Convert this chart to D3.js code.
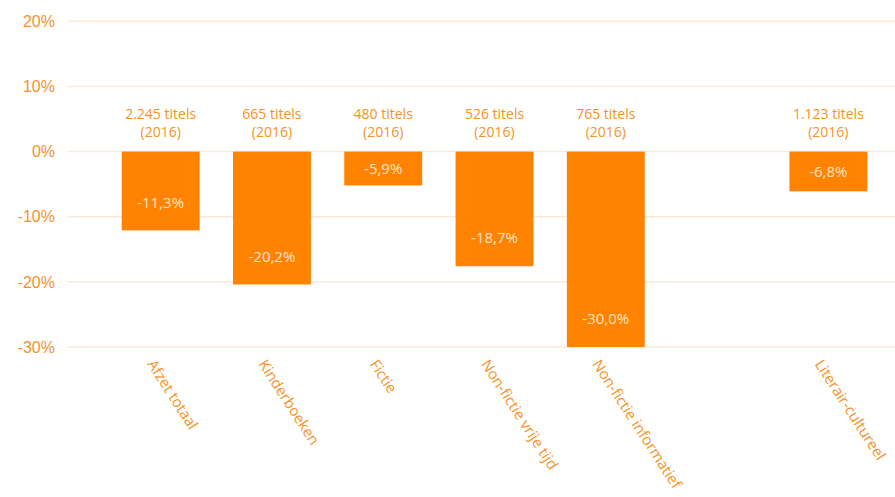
<!DOCTYPE html>
<meta charset="utf-8">
<script src="https://d3js.org/d3.v7.min.js"></script>
<style>
  body { margin: 0; background: #fff; }
</style>
<div id="chart"></div>
<script>
    // data
    const categories = ["Afzet totaal", "Kinderboeken", "Fictie", "Non-fictie vrije tijd", "Non-fictie informatief", "Literair-cultureel"];
    const values = [-12.1, -20.4, -5.2, -17.6, -30.0, -6.1];
    const valueLabels = ["-11,3%", "-20,2%", "-5,9%", "-18,7%", "-30,0%", "-6,8%"];
    const titles = ["2.245", "665", "480", "526", "765", "1.123"];
    const yTicks = [-30, -20, -10, 0, 10, 20];

    const width = 895, height = 497;
    const orange = "#ff8300", textOrange = "#f7911f", grid = "#fce9da";

    // an empty slot sits between the last two categories
    const slots = [...categories.slice(0, 5), "_gap", categories[5]];

    const svg = d3.select("#chart")
        .append("svg")
        .attr("width", width)
        .attr("height", height);

    const x = d3.scaleBand()
        .domain(slots)
        .range([105, 884])
        .paddingInner(0.3)
        .paddingOuter(0.15);

    const y = d3.scaleLinear()
        .domain([-30, 20])
        .range([347, 21.3]);

    // gridlines
    svg.append("g")
        .selectAll("line")
        .data(yTicks)
        .join("line")
            .attr("x1", 68)
            .attr("x2", width)
            .attr("y1", d => y(d))
            .attr("y2", d => y(d))
            .attr("stroke", grid)
            .attr("stroke-width", 1.5);

    // y tick labels
    svg.append("g")
        .selectAll("text")
        .data(yTicks)
        .join("text")
            .attr("x", 55)
            .attr("y", d => y(d))
            .attr("dy", "0.36em")
            .attr("text-anchor", "end")
            .attr("fill", textOrange)
            .style("font-family", "'Liberation Sans', Arial, sans-serif")
            .style("font-size", "16px")
            .text(d => d + "%");

    const rows = categories.map((c, i) => ({cat: c, value: values[i], label: valueLabels[i], title: titles[i]}));

    // bars
    svg.append("g")
        .selectAll("rect")
        .data(rows)
        .join("rect")
            .attr("x", d => x(d.cat))
            .attr("width", x.bandwidth())
            .attr("y", d => y(Math.max(0, d.value)))
            .attr("height", d => Math.abs(y(d.value) - y(0)))
            .attr("fill", orange);

    // value labels inside bars
    svg.append("g")
        .selectAll("text")
        .data(rows)
        .join("text")
            .attr("x", d => x(d.cat) + x.bandwidth() / 2)
            .attr("y", d => Math.max((y(0) + y(d.value)) / 2, y(d.value) - 28))
            .attr("dy", "0.35em")
            .attr("text-anchor", "middle")
            .attr("fill", "#ffe3c6")
            .style("font-family", "'Open Sans', sans-serif")
            .style("font-size", "15px")
            .text(d => d.label);

    // titles above bars
    const tt = svg.append("g")
        .selectAll("text")
        .data(rows)
        .join("text")
            .attr("text-anchor", "middle")
            .attr("fill", textOrange)
            .style("font-family", "'Open Sans', sans-serif")
            .style("font-size", "14px");
    tt.append("tspan")
        .attr("x", d => x(d.cat) + x.bandwidth() / 2)
        .attr("y", 114.5)
        .attr("dy", "0.35em")
        .text(d => d.title + " titels");
    tt.append("tspan")
        .attr("x", d => x(d.cat) + x.bandwidth() / 2)
        .attr("y", 132)
        .attr("dy", "0.35em")
        .text("(2016)");

    // rotated category labels
    svg.append("g")
        .selectAll("text")
        .data(rows)
        .join("text")
            .attr("transform", d => `translate(${x(d.cat) + x.bandwidth() / 2 - 14}, 364) rotate(57)`)
            .attr("text-anchor", "start")
            .attr("fill", textOrange)
            .style("font-family", "'Open Sans', sans-serif")
            .style("font-size", "15px")
            .text(d => d.cat);
</script>
